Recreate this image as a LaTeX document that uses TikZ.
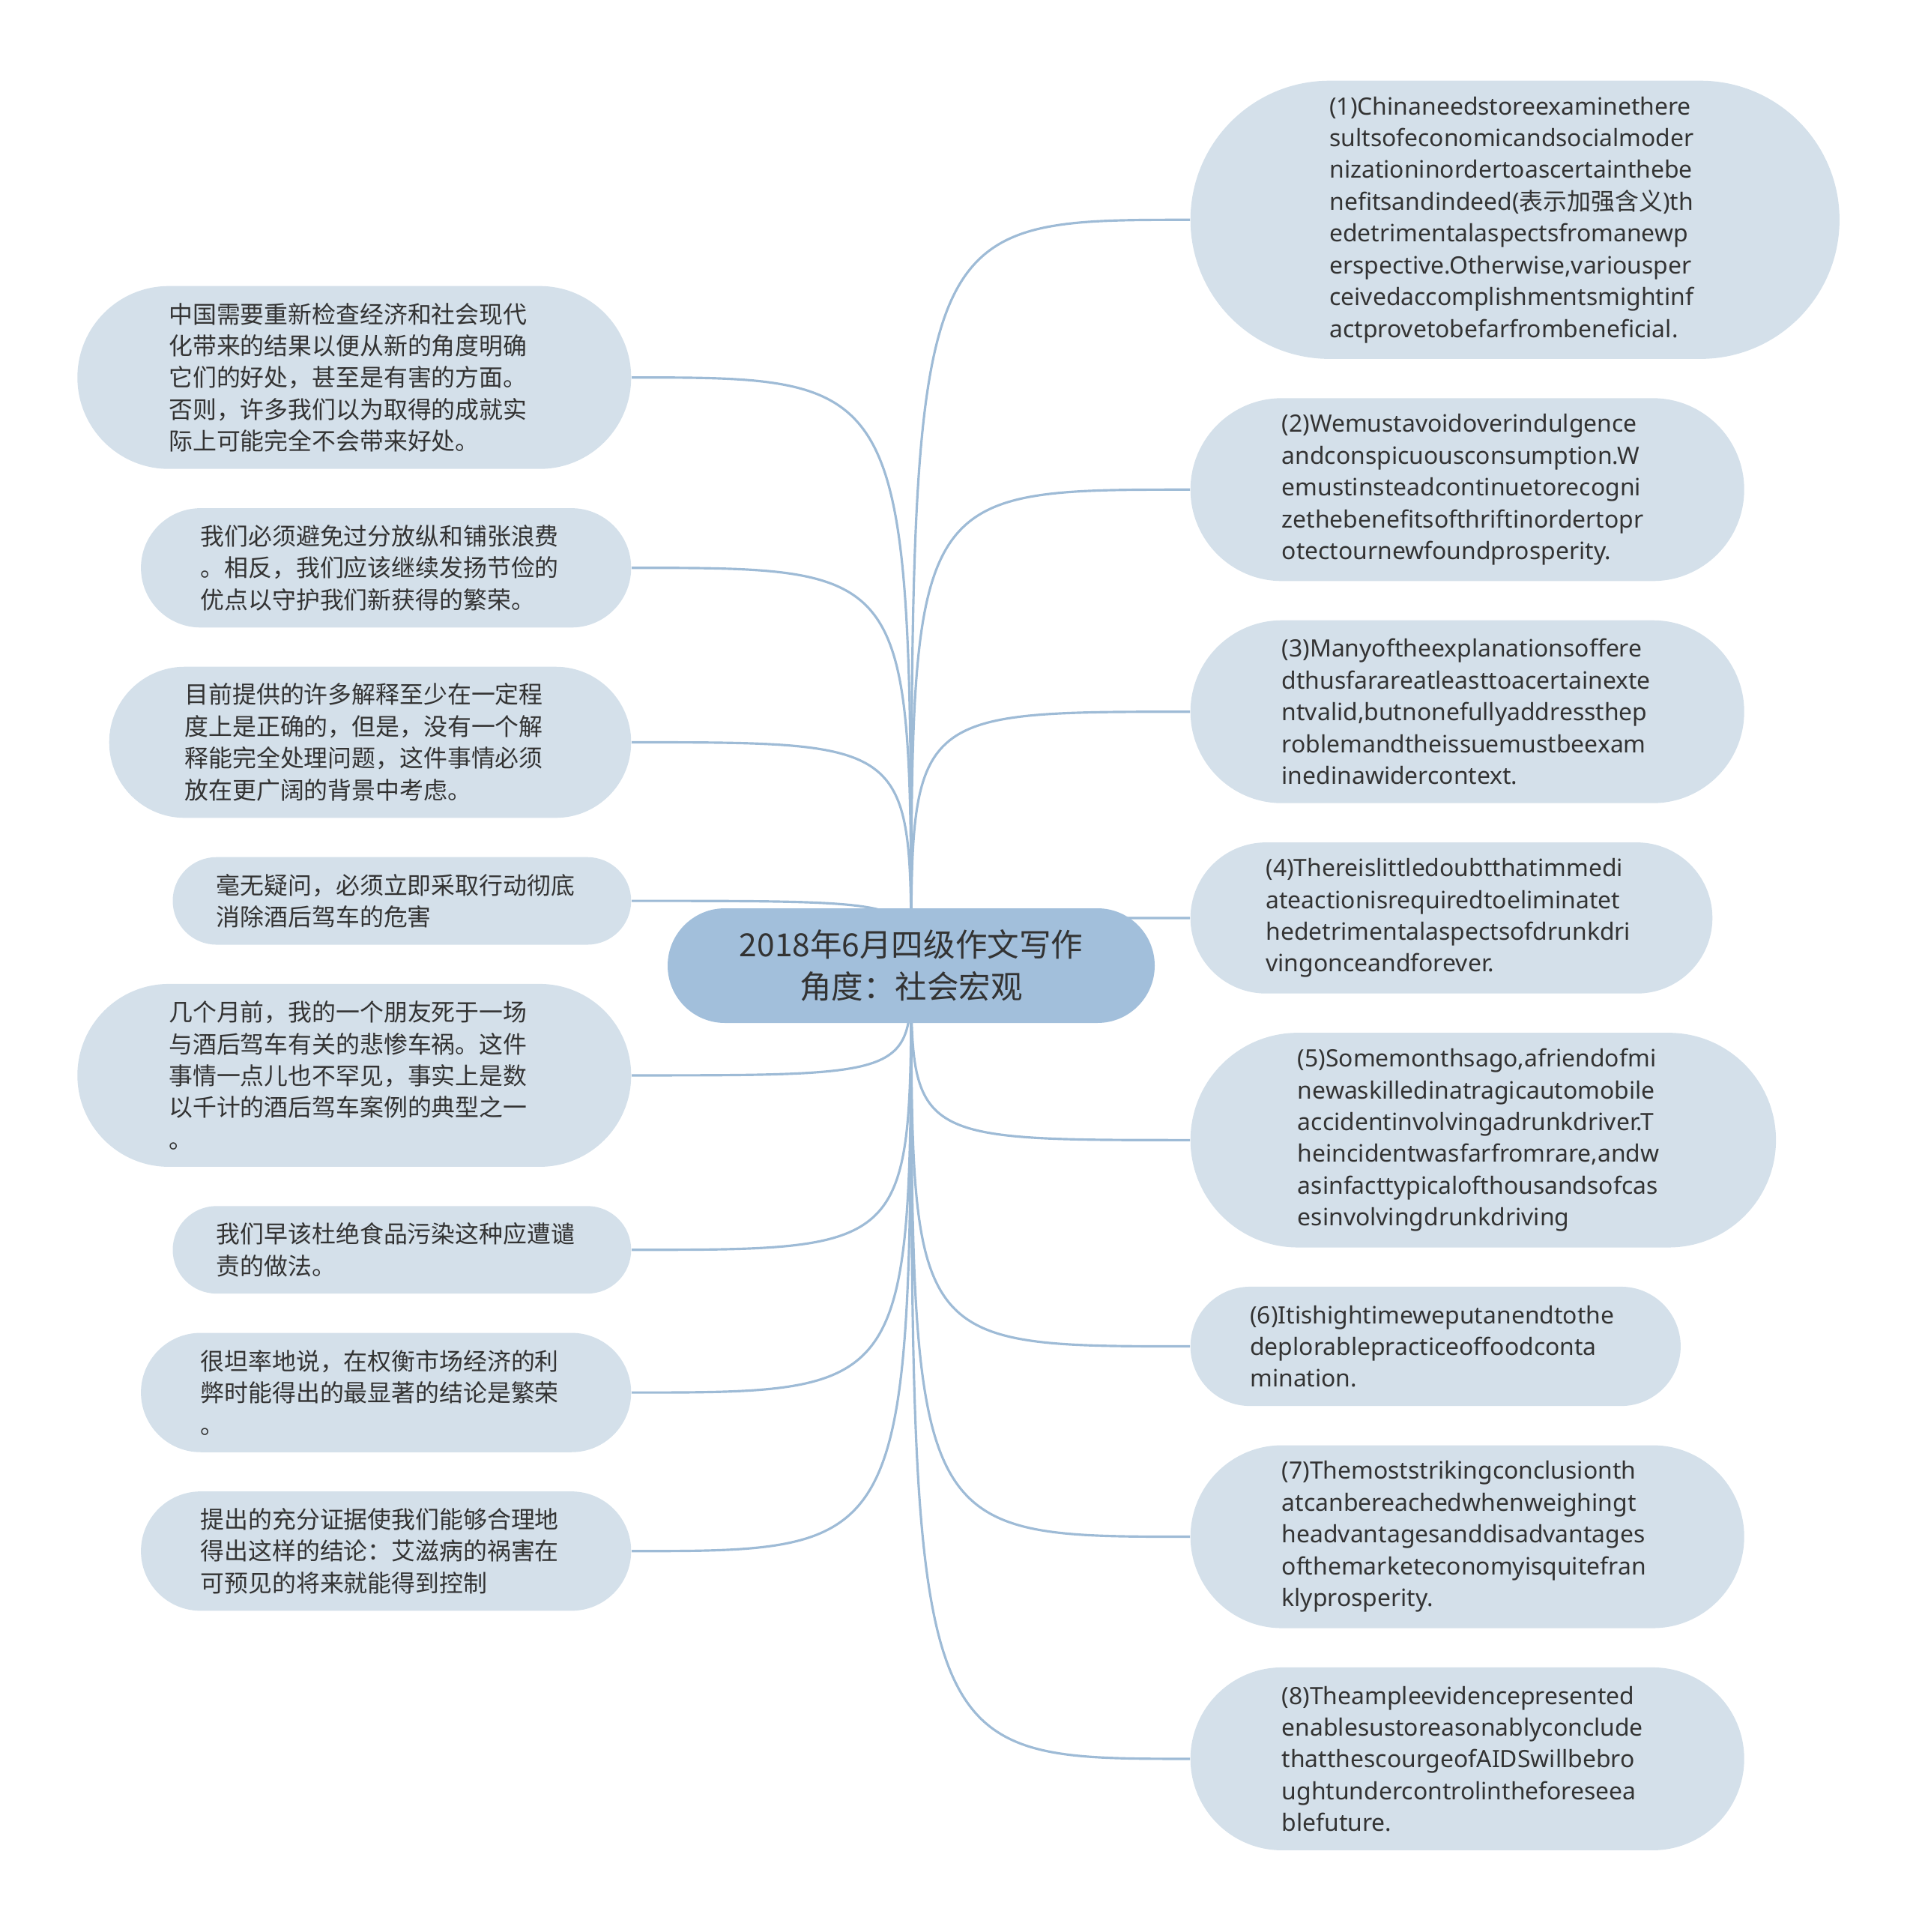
\documentclass[tikz,border=0pt]{standalone}
\usepackage{fontspec}
\setmainfont{Noto Sans}
\newfontfamily\cjk{Noto Sans CJK SC}
\usetikzlibrary{positioning, backgrounds}
\definecolor{leafblue}{HTML}{D4E0EA}
\definecolor{topicblue}{HTML}{A2BFDB}
\definecolor{linkblue}{HTML}{9EBBD6}
\definecolor{inkgray}{HTML}{333333}
\tikzset{
    pill/.style={rectangle, minimum height=#1, inner xsep=(#1)/2, inner ysep=0.1cm, rounded corners=(#1)/2, text=inkgray},
    leaf/.style={pill={#1*0.424cm+0.32cm}, fill=leafblue, text width=4.95cm, align=left, font=\fontsize{9.07pt}{12.07pt}\selectfont},
    zh/.style={font=\cjk\fontsize{9.07pt}{12.07pt}\selectfont},
    topicbox/.style={pill=1.53cm, fill=topicblue, text width=4.97cm, align=center, font=\cjk\fontsize{12.1pt}{15.9pt}\selectfont},
    link/.style={draw=linkblue, line width=0.9pt}
}

\begin{document}
\begin{tikzpicture}
    \useasboundingbox (0,0) rectangle (25.6,-25.78);

    \node (topic) [topicbox] at (12.16,-12.885) {2018年6月四级作文写作\\角度：社会宏观};

    \node (en1) [leaf=8, anchor=north west] at (15.88,-1.07) {(1)Chinaneedstoreexaminethere\\sultsofeconomicandsocialmoder\\nizationinordertoascertainthebe\\nefitsandindeed({\cjk 表示加强含义})th\\edetrimentalaspectsfromanewp\\erspective.Otherwise,variousper\\ceivedaccomplishmentsmightinf\\actprovetobefarfrombeneficial.};
    \node (en2) [leaf=5, below=0.51cm of en1.south west, anchor=north west] {(2)Wemustavoidoverindulgence\\andconspicuousconsumption.W\\emustinsteadcontinuetorecogni\\zethebenefitsofthriftinordertopr\\otectournewfoundprosperity.};
    \node (en3) [leaf=5, below=0.51cm of en2.south west, anchor=north west] {(3)Manyoftheexplanationsoffere\\dthusfarareatleasttoacertainexte\\ntvalid,butnonefullyaddressthep\\roblemandtheissuemustbeexam\\inedinawidercontext.};
    \node (en4) [leaf=4, below=0.51cm of en3.south west, anchor=north west] {(4)Thereislittledoubtthatimmedi\\ateactionisrequiredtoeliminatet\\hedetrimentalaspectsofdrunkdri\\vingonceandforever.};
    \node (en5) [leaf=6, below=0.51cm of en4.south west, anchor=north west] {(5)Somemonthsago,afriendofmi\\newaskilledinatragicautomobile\\accidentinvolvingadrunkdriver.T\\heincidentwasfarfromrare,andw\\asinfacttypicalofthousandsofcas\\esinvolvingdrunkdriving};
    \node (en6) [leaf=3, below=0.51cm of en5.south west, anchor=north west] {(6)Itishightimeweputanendtothe\\deplorablepracticeoffoodconta\\mination.};
    \node (en7) [leaf=5, below=0.51cm of en6.south west, anchor=north west] {(7)Themoststrikingconclusionth\\atcanbereachedwhenweighingt\\headvantagesanddisadvantages\\ofthemarketeconomyisquitefran\\klyprosperity.};
    \node (en8) [leaf=5, below=0.51cm of en7.south west, anchor=north west] {(8)Theampleevidencepresented\\enablesustoreasonablyconclude\\thatthescourgeofAIDSwillbebro\\ughtundercontrolintheforeseea\\blefuture.};

    \node (cn1) [leaf=5, zh, anchor=north east] at (8.43,-3.81) {中国需要重新检查经济和社会现代\\化带来的结果以便从新的角度明确\\它们的好处，甚至是有害的方面。\\否则，许多我们以为取得的成就实\\际上可能完全不会带来好处。};
    \node (cn2) [leaf=3, zh, below=0.51cm of cn1.south east, anchor=north east] {我们必须避免过分放纵和铺张浪费\\。相反，我们应该继续发扬节俭的\\优点以守护我们新获得的繁荣。};
    \node (cn3) [leaf=4, zh, below=0.51cm of cn2.south east, anchor=north east] {目前提供的许多解释至少在一定程\\度上是正确的，但是，没有一个解\\释能完全处理问题，这件事情必须\\放在更广阔的背景中考虑。};
    \node (cn4) [leaf=2, zh, below=0.51cm of cn3.south east, anchor=north east] {毫无疑问，必须立即采取行动彻底\\消除酒后驾车的危害};
    \node (cn5) [leaf=5, zh, below=0.51cm of cn4.south east, anchor=north east] {几个月前，我的一个朋友死于一场\\与酒后驾车有关的悲惨车祸。这件\\事情一点儿也不罕见，事实上是数\\以千计的酒后驾车案例的典型之一\\。};
    \node (cn6) [leaf=2, zh, below=0.51cm of cn5.south east, anchor=north east] {我们早该杜绝食品污染这种应遭谴\\责的做法。};
    \node (cn7) [leaf=3, zh, below=0.51cm of cn6.south east, anchor=north east] {很坦率地说，在权衡市场经济的利\\弊时能得出的最显著的结论是繁荣\\。};
    \node (cn8) [leaf=3, zh, below=0.51cm of cn7.south east, anchor=north east] {提出的充分证据使我们能够合理地\\得出这样的结论：艾滋病的祸害在\\可预见的将来就能得到控制};

    \begin{pgfonlayer}{background}
        \draw [link] (topic.center) .. controls (topic.center |- en1.west) .. (en1.west);
        \draw [link] (topic.center) .. controls (topic.center |- en2.west) .. (en2.west);
        \draw [link] (topic.center) .. controls (topic.center |- en3.west) .. (en3.west);
        \draw [link] (topic.center) .. controls (topic.center |- en4.west) .. (en4.west);
        \draw [link] (topic.center) .. controls (topic.center |- en5.west) .. (en5.west);
        \draw [link] (topic.center) .. controls (topic.center |- en6.west) .. (en6.west);
        \draw [link] (topic.center) .. controls (topic.center |- en7.west) .. (en7.west);
        \draw [link] (topic.center) .. controls (topic.center |- en8.west) .. (en8.west);
        \draw [link] (topic.center) .. controls (topic.center |- cn1.east) .. (cn1.east);
        \draw [link] (topic.center) .. controls (topic.center |- cn2.east) .. (cn2.east);
        \draw [link] (topic.center) .. controls (topic.center |- cn3.east) .. (cn3.east);
        \draw [link] (topic.center) .. controls (topic.center |- cn4.east) .. (cn4.east);
        \draw [link] (topic.center) .. controls (topic.center |- cn5.east) .. (cn5.east);
        \draw [link] (topic.center) .. controls (topic.center |- cn6.east) .. (cn6.east);
        \draw [link] (topic.center) .. controls (topic.center |- cn7.east) .. (cn7.east);
        \draw [link] (topic.center) .. controls (topic.center |- cn8.east) .. (cn8.east);
    \end{pgfonlayer}
\end{tikzpicture}
\end{document}
